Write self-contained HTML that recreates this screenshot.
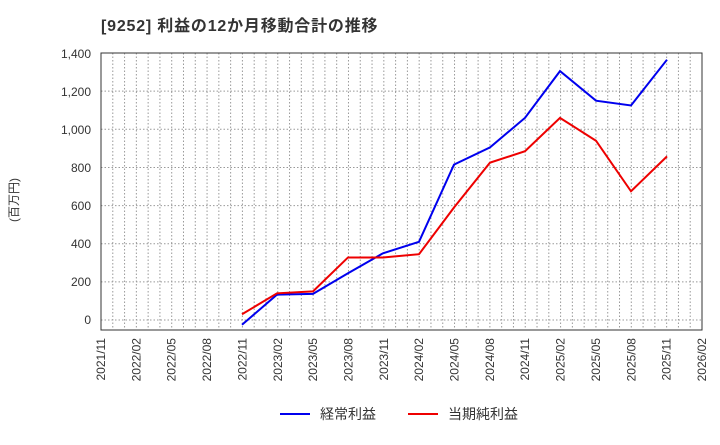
<!DOCTYPE html><html><head><style>body{margin:0;background:#fff}text{font-family:"Liberation Sans","Noto Sans CJK JP",sans-serif}</style></head><body>
<svg width="720" height="440" xmlns="http://www.w3.org/2000/svg">
<text x="101" y="31" font-size="16" font-weight="bold" fill="#333" letter-spacing="0.8">[9252]  利益の12か月移動合計の推移</text>
<g stroke="#999" stroke-dasharray="1.5,2" stroke-width="1">
<g id="v"></g>
</g>
<rect x="101" y="53" width="601" height="277" fill="none" stroke="#333"/>
<g font-size="12" fill="#333" text-anchor="end">
<text x="91" y="324">0</text><text x="91" y="286">200</text><text x="91" y="248">400</text><text x="91" y="210">600</text><text x="91" y="172">800</text><text x="91" y="134">1,000</text><text x="91" y="96">1,200</text><text x="91" y="58">1,400</text>
</g>
<text transform="translate(18,200) rotate(-90)" font-size="12" fill="#333" text-anchor="middle">(百万円)</text>
<g id="xl" font-size="12" fill="#333"></g>
<g fill="none" stroke-width="2" transform="translate(0,320) scale(1,-0.19071)">
<polyline vector-effect="non-scaling-stroke" stroke="#0000ee" points="242,-25 277,133 313,137 348,245 383,350 419,410 454,815 490,905 525,1060 560,1305 596,1150 631,1125 667,1365"/>
<polyline vector-effect="non-scaling-stroke" stroke="#ee0000" points="242,30 277,140 313,150 348,328 383,328 419,345 454,590 490,825 525,885 560,1060 596,940 631,675 667,858"/>
</g>
<line x1="280" y1="414" x2="310" y2="414" stroke="#0000ee" stroke-width="2"/>
<text x="320" y="419" font-size="14" fill="#333">経常利益</text>
<line x1="408" y1="414" x2="438" y2="414" stroke="#ee0000" stroke-width="2"/>
<text x="448" y="419" font-size="14" fill="#333">当期純利益</text>
<script>
var ns="http://www.w3.org/2000/svg",v=document.getElementById("v");
for(var i=1;i<51;i++){var x=101+i*601/51;var l=document.createElementNS(ns,"line");l.setAttribute("x1",x);l.setAttribute("x2",x);l.setAttribute("y1",53);l.setAttribute("y2",330);v.appendChild(l);}
for(var j=0;j<8;j++){var y=320-j*38.14;var l=document.createElementNS(ns,"line");l.setAttribute("x1",101);l.setAttribute("x2",702);l.setAttribute("y1",y);l.setAttribute("y2",y);v.appendChild(l);}
var labs=["2021/11","2022/02","2022/05","2022/08","2022/11","2023/02","2023/05","2023/08","2023/11","2024/02","2024/05","2024/08","2024/11","2025/02","2025/05","2025/08","2025/11","2026/02"],g=document.getElementById("xl");
labs.forEach(function(s,k){var x=101+k*601/17+4;var t=document.createElementNS(ns,"text");t.setAttribute("transform","translate("+x+",338) rotate(-90)");t.setAttribute("text-anchor","end");t.textContent=s;g.appendChild(t);});
</script>
</svg></body></html>
